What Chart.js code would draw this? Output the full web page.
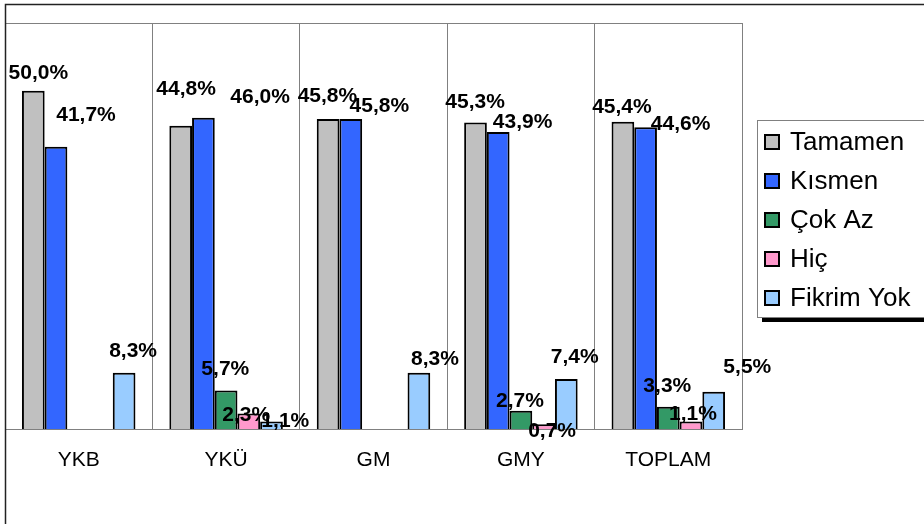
<!DOCTYPE html>
<html>
<head>
<meta charset="utf-8">
<script src="https://cdn.jsdelivr.net/npm/chart.js@4/dist/chart.umd.min.js"></script>
<style>
  html, body { margin: 0; padding: 0; background: #fff; }
  canvas { display: block; }
</style>
</head>
<body>
<canvas id="chart" width="924" height="524"></canvas>
<script>
// Categories and survey answer shares (%)
const categories = ['YKB', 'YKÜ', 'GM', 'GMY', 'TOPLAM'];
const seriesNames = ['Tamamen', 'Kısmen', 'Çok Az', 'Hiç', 'Fikrim Yok'];
const tamamen   = [50.0, 44.8, 45.8, 45.3, 45.4];
const kismen    = [41.7, 46.0, 45.8, 43.9, 44.6];
const cokAz     = [null, 5.7, null, 2.7, 3.3];
const hic       = [null, 2.3, null, 0.7, 1.1];
const fikrimYok = [8.3, 1.1, 8.3, 7.4, 5.5];
const yRange    = { min: 0, max: 60 };

const seriesColors = ['#C0C0C0', '#3366FF', '#339966', '#FF99CC', '#99CCFF'];
const FONT = '"Liberation Sans", Arial, Helvetica, sans-serif';

// Label placement relative to each bar's top centre: [dx, dy] in px
const labelNudge = [
  [[5, -19.5], [5.4, -38], [-0.7, -24.5], [-0.4, -21.8], [-1, -15.8]],
  [[30, -33.6], [56.7, -22.6], [28.5, -14.3], [24.4, -11], [35, -4.5]],
  [null, [-0.8, -23.4], null, [-1, -11.5], [-1, -22.5]],
  [null, [-2.6, 0], null, [8.5, 5], [2, -9]],
  [[9, -23], [13.8, -2], [16, -15], [8.4, -23], [33.6, -26]]
];

const valueLabels = {
  id: 'valueLabels',
  afterDatasetsDraw(chart) {
    const ctx = chart.ctx;
    ctx.save();
    ctx.font = 'bold 21px ' + FONT;
    ctx.fillStyle = '#000';
    ctx.textAlign = 'center';
    ctx.textBaseline = 'alphabetic';
    chart.data.datasets.forEach((ds, i) => {
      const meta = chart.getDatasetMeta(i);
      meta.data.forEach((bar, j) => {
        const v = ds.data[j];
        if (v == null) return;
        const n = (labelNudge[i] && labelNudge[i][j]) || [0, -20];
        const txt = v.toFixed(1).replace('.', ',') + '%';
        ctx.fillText(txt, bar.x + n[0], bar.y + n[1] + 7.5);
      });
    });
    ctx.restore();
  }
};

// Outer chart frame and top edge of the plot area
const frame = {
  id: 'frame',
  afterDraw(chart) {
    const ctx = chart.ctx;
    const a = chart.chartArea;
    ctx.save();
    ctx.strokeStyle = '#808080';
    ctx.lineWidth = 1;
    ctx.beginPath();
    ctx.moveTo(Math.round(a.left) + 0.5, Math.round(a.top) + 0.5);
    ctx.lineTo(Math.round(a.right) + 0.5, Math.round(a.top) + 0.5);
    ctx.stroke();
    ctx.strokeStyle = '#222';
    ctx.lineWidth = 1.5;
    ctx.beginPath();
    ctx.moveTo(5.5, 530);
    ctx.lineTo(5.5, 4.5);
    ctx.lineTo(930, 4.5);
    ctx.stroke();
    ctx.restore();
  }
};

// Boxed legend with a drop shadow, to the right of the plot
const sideLegend = {
  id: 'sideLegend',
  afterDraw(chart) {
    const ctx = chart.ctx;
    const x = 757, y = 120, w = 200, h = 197;
    ctx.save();
    ctx.fillStyle = '#000';
    ctx.fillRect(x + 5, y + h, w, 5);
    ctx.fillStyle = '#fff';
    ctx.fillRect(x, y, w, h);
    ctx.strokeStyle = '#808080';
    ctx.lineWidth = 1;
    ctx.strokeRect(x + 0.5, y + 0.5, w, h);
    ctx.font = '26px ' + FONT;
    ctx.textBaseline = 'middle';
    ctx.textAlign = 'left';
    chart.data.datasets.forEach((ds, i) => {
      const cy = 142 + i * 39;
      ctx.fillStyle = ds.backgroundColor;
      ctx.fillRect(765, cy - 7, 14, 14);
      ctx.strokeStyle = '#000';
      ctx.lineWidth = 2;
      ctx.strokeRect(765, cy - 7, 14, 14);
      ctx.fillStyle = '#000';
      ctx.fillText(ds.label, 790, cy + 1);
    });
    ctx.restore();
  }
};

const seriesValues = [tamamen, kismen, cokAz, hic, fikrimYok];

new Chart(document.getElementById('chart'), {
  type: 'bar',
  data: {
    labels: categories,
    datasets: seriesNames.map((name, i) => ({
      label: name,
      data: seriesValues[i],
      backgroundColor: seriesColors[i],
      borderColor: '#000',
      borderWidth: 2,
      categoryPercentage: 0.77,
      barPercentage: 1.0
    }))
  },
  options: {
    responsive: false,
    animation: false,
    devicePixelRatio: 1,
    layout: { padding: { left: 5, top: 23, right: 182, bottom: 0 } },
    plugins: {
      legend: { display: false },
      tooltip: { enabled: false }
    },
    scales: {
      x: {
        grid: { display: true, offset: true, color: '#808080', lineWidth: 1, drawTicks: false },
        border: { display: true, color: '#808080', width: 1 },
        ticks: { color: '#000', font: { family: FONT, size: 21 }, padding: 19, maxRotation: 0 },
        afterFit(scale) { scale.height = 95; }
      },
      y: { display: false, min: yRange.min, max: yRange.max }
    }
  },
  plugins: [valueLabels, frame, sideLegend]
});
</script>
</body>
</html>
